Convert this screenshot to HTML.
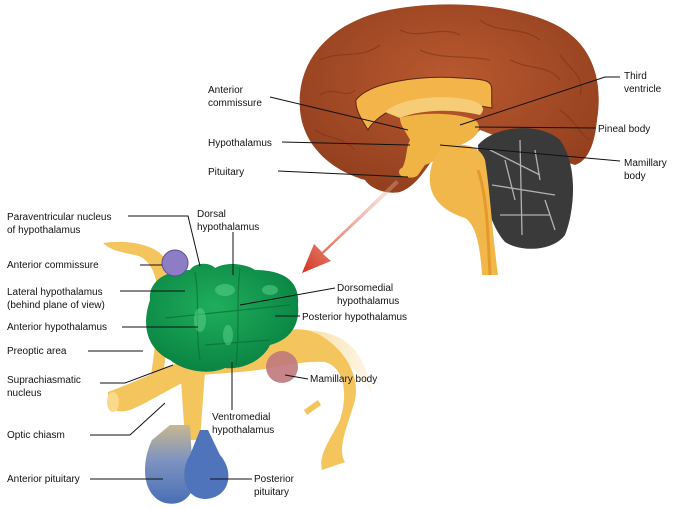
<!DOCTYPE html>
<html><head><meta charset="utf-8"><style>
body{margin:0;background:#fff}
svg{display:block}
text{font-family:"Liberation Sans",sans-serif;font-size:10px;fill:#111}
</style></head><body>
<svg width="685" height="509" viewBox="0 0 685 509" xmlns="http://www.w3.org/2000/svg">
<defs>
<radialGradient id="br" cx="50%" cy="40%" r="60%"><stop offset="0" stop-color="#b9592f"/><stop offset="1" stop-color="#94401f"/></radialGradient>
<radialGradient id="gr" cx="45%" cy="40%" r="60%"><stop offset="0" stop-color="#1fae5c"/><stop offset="1" stop-color="#0a8443"/></radialGradient>
<linearGradient id="ar" x1="1" y1="0" x2="0" y2="1"><stop offset="0" stop-color="#f3c1b0" stop-opacity="0.3"/><stop offset="1" stop-color="#d3321c"/></linearGradient>
<linearGradient id="bl" x1="0" y1="0" x2="0" y2="1"><stop offset="0" stop-color="#c8b790"/><stop offset="0.45" stop-color="#7d93c0"/><stop offset="1" stop-color="#4a6fb6"/></linearGradient>
<linearGradient id="fade" x1="0" y1="0" x2="1" y2="0"><stop offset="0" stop-color="#f5c55d"/><stop offset="1" stop-color="#f5c55d" stop-opacity="0.2"/></linearGradient>
</defs>
<!-- cerebrum -->
<path d="M300 110 C296 60 330 25 380 12 C430 0 500 2 545 20 C585 35 605 70 597 120 C595 140 590 160 575 165 L560 160 L480 130 C470 140 455 150 440 150 C430 160 420 185 400 192 C385 195 370 188 365 180 C330 170 303 145 300 110Z" fill="url(#br)"/>
<g stroke="#7c3317" stroke-width="1.2" fill="none" opacity="0.6">
<path d="M320 60 C340 50 360 60 380 45 M400 30 C420 40 440 25 460 35 M480 20 C500 35 520 25 540 40 M560 55 C570 70 585 75 580 95 M320 95 C335 85 345 100 355 90 M560 110 C575 120 580 135 590 140 M420 50 C440 60 470 55 490 60 M510 60 C530 70 550 65 560 80 M315 130 C330 140 340 135 355 150"/>
</g>
<!-- corpus callosum -->
<path d="M356 100 C370 82 420 75 460 78 C500 80 490 82 492 108 C470 104 420 100 395 108 C380 115 370 125 368 130 C362 120 355 110 356 100Z" fill="#f3b44a" stroke="#5a2410" stroke-width="1"/>
<path d="M385 112 C400 98 440 94 470 100 C485 104 485 110 480 115 C450 108 420 110 400 118Z" fill="#f7cc77"/>
<!-- thalamus area -->
<path d="M400 118 C420 112 455 112 475 120 C485 128 475 140 460 145 C445 150 440 160 425 165 L418 175 C416 178 405 180 400 172 C408 160 405 150 410 140 C405 130 400 125 400 118Z" fill="#f0b445"/>
<ellipse cx="405" cy="172" rx="6" ry="5" fill="#f0b445"/>
<!-- cerebellum -->
<path d="M478 145 C495 125 540 122 560 140 C578 165 575 210 565 235 C552 252 520 252 505 242 C492 228 480 195 478 145Z" fill="#3a3a3a"/>
<g stroke="#cfcfcf" stroke-width="1.3" fill="none" opacity="0.8">
<path d="M490 150 L540 175 M492 185 L555 195 M500 215 L550 215 M520 140 L522 235 M505 160 L515 200 M535 150 L540 180 M545 200 L555 230"/>
</g>
<!-- brainstem -->
<path d="M440 150 C460 140 480 145 485 160 C490 190 492 230 498 275 L482 275 C480 245 476 225 465 218 C440 210 428 195 430 175 C431 162 436 155 440 150Z" fill="#f2b74a"/>
<path d="M478 170 C488 200 488 240 490 275" stroke="#e49a2b" stroke-width="3" fill="none"/>
<!-- arrow -->
<path d="M396 180 L322 252 L314 244 L302 273 L331 261 L323 254 L399 183Z" fill="url(#ar)"/>
<!-- lower yellow -->
<path d="M103 243 C125 240 150 243 162 255 C172 268 170 300 168 330 C166 360 162 380 160 395 L148 395 C152 370 158 330 158 300 C158 275 150 258 135 255 C120 252 110 250 103 243Z" fill="#f5c55d"/>
<path d="M108 392 C108 410 115 414 130 410 C150 402 175 385 200 375 L240 372 C270 370 300 360 325 362 C345 368 348 395 340 420 C330 440 318 455 322 470 L345 462 C336 448 350 420 355 400 C360 375 345 350 320 335 C300 325 285 330 275 335 C250 345 215 360 185 360 C160 370 135 382 108 392Z" fill="#f5c55d"/>
<ellipse cx="113" cy="402" rx="6" ry="10" fill="#f9d98a"/>
<path d="M300 330 C340 330 365 345 372 395 C360 370 340 355 320 350Z" fill="url(#fade)" opacity="0.6"/>
<path d="M304 410 L318 400 L321 405 L307 415Z" fill="#f5c55d"/>
<path d="M180 365 L185 440 L200 440 L205 372Z" fill="#f5c55d"/>
<!-- green -->
<path d="M150 300 C148 282 165 270 190 270 C195 262 210 262 215 268 C230 260 250 266 255 270 C285 270 300 282 298 305 C300 325 290 340 270 345 C262 362 240 370 225 368 C210 375 185 372 170 360 C150 350 140 330 150 300Z" fill="url(#gr)"/>
<g stroke="#0a6e35" stroke-width="1.2" fill="none" opacity="0.7">
<path d="M195 272 C200 300 195 330 200 360 M240 268 C236 300 240 330 236 365 M165 318 L290 305 M205 345 L270 340"/>
</g>
<g fill="#5fd58f" opacity="0.5">
<ellipse cx="225" cy="290" rx="10" ry="6"/><ellipse cx="200" cy="320" rx="6" ry="12"/><ellipse cx="270" cy="290" rx="8" ry="5"/><ellipse cx="228" cy="335" rx="5" ry="10"/>
</g>
<circle cx="175" cy="263" r="13" fill="#8c7dc4" stroke="#5d4f97"/>
<circle cx="282" cy="367" r="16" fill="#c0787c" opacity="0.9"/>
<!-- pituitary -->
<path d="M152 440 C142 460 140 495 165 503 C190 508 200 485 192 460 L190 425 L170 425Z" fill="url(#bl)"/>
<path d="M190 455 C180 470 182 498 205 499 C230 498 235 472 220 455 L208 430 L200 430Z" fill="#4f74bb"/>
<!-- leader lines -->
<g stroke="#111" stroke-width="1" fill="none">
<path d="M270 97 L408 130"/>
<path d="M282 142 L410 145"/>
<path d="M278 171 L408 177"/>
<path d="M620 77 L605 77 L460 125"/>
<path d="M596 128 L475 127"/>
<path d="M620 161 L440 145"/>
<path d="M128 216 L188 216 L200 266"/>
<path d="M140 265 L162 265"/>
<path d="M233 232 L233 275"/>
<path d="M120 291 L185 291"/>
<path d="M335 288 L240 305"/>
<path d="M122 327 L198 327"/>
<path d="M88 351 L143 351"/>
<path d="M300 316 L275 316"/>
<path d="M100 383 L125 383 L173 365"/>
<path d="M308 379 L285 375"/>
<path d="M232 410 L232 362"/>
<path d="M90 435 L130 435 L165 403"/>
<path d="M90 479 L163 479"/>
<path d="M252 479 L210 479"/>
</g>
<!-- labels -->
<text x="208" y="93">Anterior</text><text x="208" y="106">commissure</text>
<text x="208" y="146">Hypothalamus</text>
<text x="208" y="175">Pituitary</text>
<text x="624" y="79">Third</text><text x="624" y="92">ventricle</text>
<text x="598" y="132">Pineal body</text>
<text x="624" y="166">Mamillary</text><text x="624" y="179">body</text>
<text x="7" y="220">Paraventricular nucleus</text><text x="7" y="233">of hypothalamus</text>
<text x="197" y="217">Dorsal</text><text x="197" y="230">hypothalamus</text>
<text x="7" y="268">Anterior commissure</text>
<text x="7" y="295">Lateral hypothalamus</text><text x="7" y="308">(behind plane of view)</text>
<text x="337" y="291">Dorsomedial</text><text x="337" y="304">hypothalamus</text>
<text x="7" y="330">Anterior hypothalamus</text>
<text x="302" y="320">Posterior hypothalamus</text>
<text x="7" y="354">Preoptic area</text>
<text x="7" y="383">Suprachiasmatic</text><text x="7" y="396">nucleus</text>
<text x="310" y="382">Mamillary body</text>
<text x="212" y="420">Ventromedial</text><text x="212" y="433">hypothalamus</text>
<text x="7" y="438">Optic chiasm</text>
<text x="7" y="482">Anterior pituitary</text>
<text x="254" y="482">Posterior</text><text x="254" y="495">pituitary</text>
</svg>
</body></html>
